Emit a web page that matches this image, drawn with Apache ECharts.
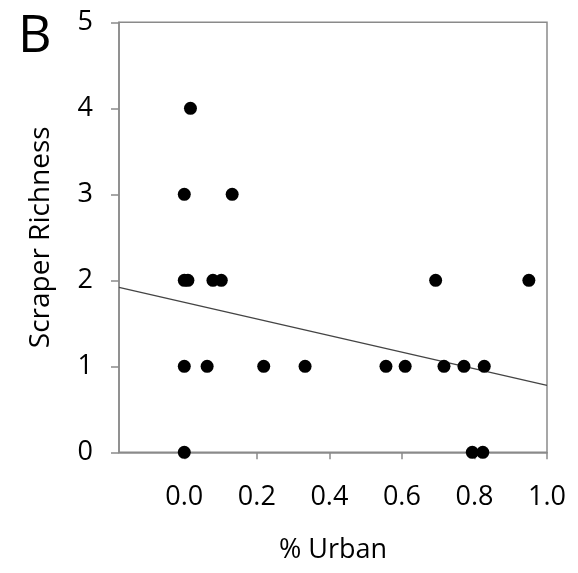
<!DOCTYPE html>
<html>
<head>
<meta charset="utf-8">
<script src="https://cdn.jsdelivr.net/npm/echarts@6/dist/echarts.min.js"></script>
<style>html,body{margin:0;padding:0;background:#fff}#c{width:578px;height:573px}</style>
</head>
<body>
<div id="c"></div>
<script>
// Data
const urbanPct = [0.017, 0.0, 0.132, 0.0, 0.010, 0.079, 0.102, 0.0, 0.063, 0.219, 0.333, 0.0,
                  0.556, 0.609, 0.693, 0.716, 0.771, 0.794, 0.823, 0.827, 0.950];
const richness = [4, 3, 3, 2, 2, 2, 2, 1, 1, 1, 1, 0,
                  1, 1, 2, 1, 1, 0, 0, 1, 2];
const trendX = [-0.18, 1.0];
const trendY = [1.919, 0.779];
const xTicks = [0.0, 0.2, 0.4, 0.6, 0.8, 1.0];
const yTicks = [0, 1, 2, 3, 4, 5];

const font = 'Open Sans';
const axisGray = '#8a8a8a';

const chart = echarts.init(document.getElementById('c'), null, {renderer: 'canvas'});
chart.setOption({
  animation: false,
  backgroundColor: '#fff',
  title: {
    text: 'B', left: 13, top: 6,
    textStyle: {fontFamily: font, fontSize: 52, fontWeight: 'normal', color: '#000'}
  },
  grid: {
    left: 119, right: 31, top: 22.3, bottom: 120.7,
    show: true, borderColor: axisGray, borderWidth: 1.5, backgroundColor: 'transparent'
  },
  xAxis: {
    type: 'value', min: trendX[0], max: 1.0,
    name: '% Urban', nameLocation: 'middle', nameGap: 85,
    nameTextStyle: {fontFamily: font, fontSize: 27, color: '#000'},
    splitLine: {show: false},
    axisLine: {show: true, onZero: false, lineStyle: {color: axisGray, width: 1.5}},
    axisTick: {show: true, inside: false, length: 7, customValues: xTicks, lineStyle: {color: axisGray, width: 1.5}},
    axisLabel: {customValues: xTicks, margin: 32, fontFamily: font, fontSize: 27, color: '#000',
      formatter: v => Number(v).toFixed(1)}
  },
  yAxis: {
    type: 'value', min: yTicks[0], max: yTicks[yTicks.length - 1], interval: 1,
    name: 'Scraper Richness', nameLocation: 'middle', nameGap: 64,
    nameTextStyle: {fontFamily: font, fontSize: 28, color: '#000'},
    splitLine: {show: false},
    axisLine: {show: true, onZero: false, lineStyle: {color: axisGray, width: 1.5}},
    axisTick: {show: true, length: 8, lineStyle: {color: axisGray, width: 1.5}},
    axisLabel: {margin: 26, fontFamily: font, fontSize: 27, color: '#000'}
  },
  series: [
    {
      type: 'line',
      data: trendX.map((x, i) => [x, trendY[i]]),
      symbol: 'none',
      lineStyle: {color: '#444', width: 1.3},
      z: 2
    },
    {
      type: 'scatter',
      data: urbanPct.map((x, i) => [x, richness[i]]),
      symbol: 'circle', symbolSize: 13,
      itemStyle: {color: '#000', opacity: 1},
      clip: false,
      z: 3
    }
  ]
});
</script>
</body>
</html>
